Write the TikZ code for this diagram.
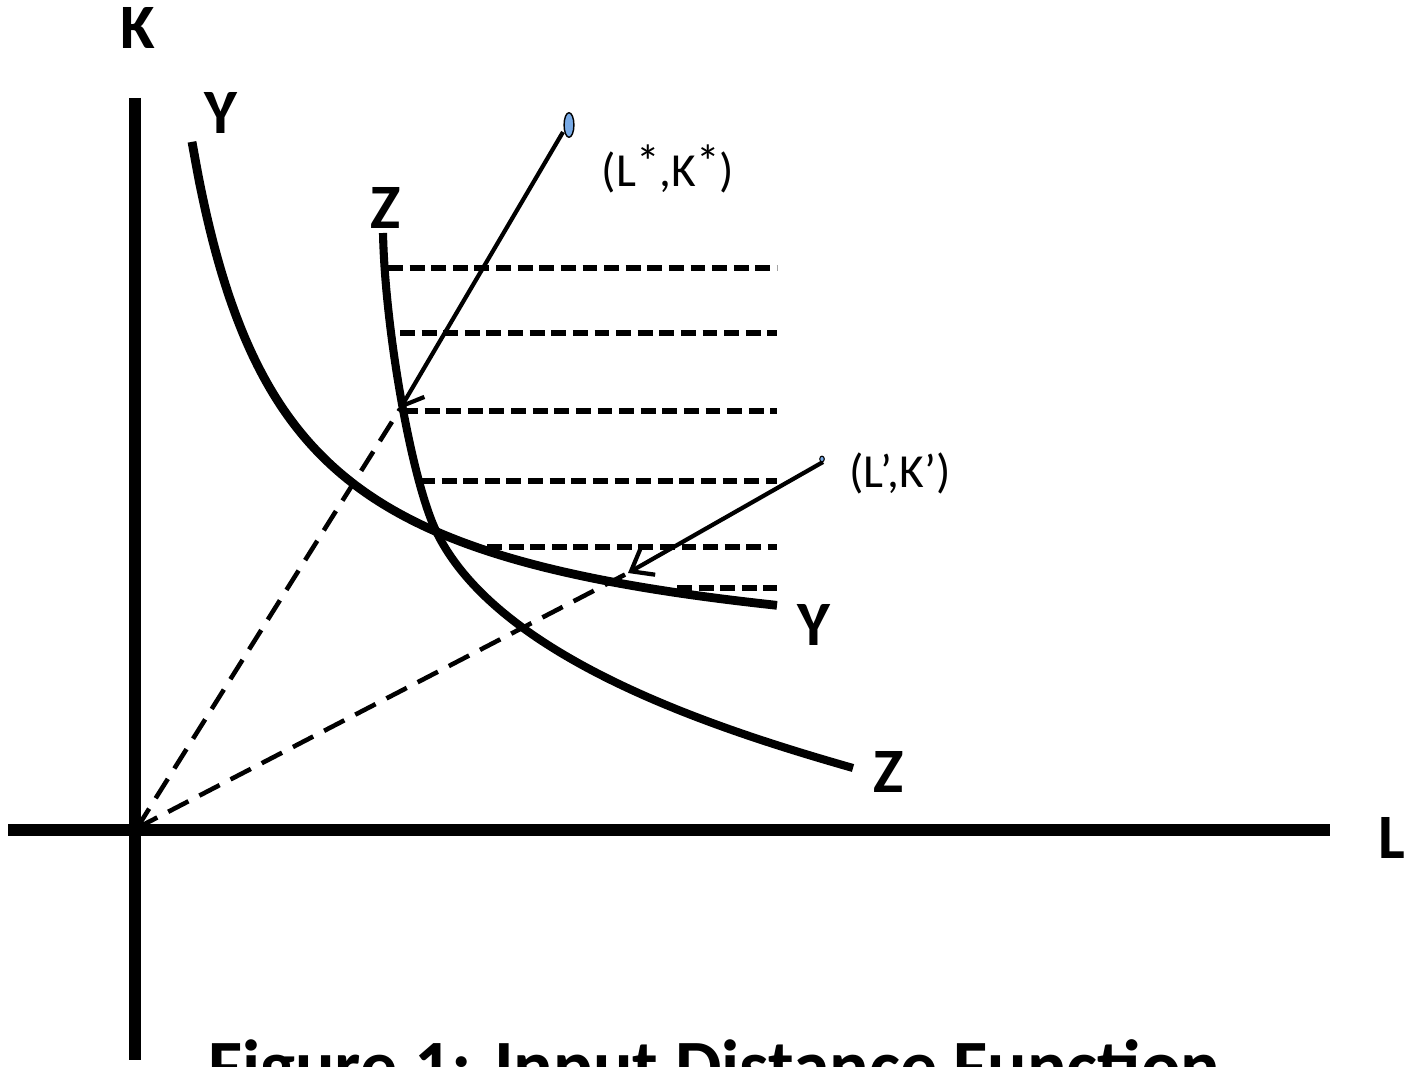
\documentclass[tikz,border=0pt]{standalone}
\usepackage{fontspec}
\setmainfont{Carlito}
\usetikzlibrary{arrows.meta}
\definecolor{dotblue}{RGB}{120,170,230}
\newcommand{\hiast}{\raisebox{0.18em}{*}}

\begin{document}
\begin{tikzpicture}[x=0.02cm,y=-0.02cm,line join=round,
  axisline/.style={line width=7pt},
  isoq/.style={line width=5pt},
  bound/.style={line width=3.3pt,dash pattern=on 8.5pt off 3.8pt},
  radial/.style={line width=2.6pt,dash pattern=on 13pt off 7pt},
  proj/.style={line width=2.4pt,-{Straight Barb[length=11pt,width=17pt]}},
  axlbl/.style={font=\fontsize{36}{40}\selectfont\bfseries,inner sep=0pt},
  ptlbl/.style={font=\fontsize{27}{31}\selectfont,inner sep=0pt}]
  \clip (0,0) rectangle (1413,1067);
  \coordinate (O) at (137,828);
  \coordinate (Pstar) at (563,132);
  \coordinate (Astar) at (400,409);
  \coordinate (Pprime) at (823,462);
  \coordinate (Aprime) at (628,573);
  \coordinate (YZ) at (437,533);
  \draw[axisline] (8,830) -- (1330,830);
  \draw[axisline] (135,98) -- (135,1060);
  \foreach \y/\xs in {268/388,333/400,411/403,481/420,547/487,588/677} {
    \draw[bound] (\xs,\y) -- (777,\y);
  }
  \draw[isoq] plot[domain=55:640,samples=80,smooth] ({137+\x},{678-491.5/(0.01*\x+0.367)});
  \draw[isoq,line width=4.6pt] (383,233) .. controls (385,330) and (412,483) .. (YZ)
    .. controls (500,660) and (720,730) .. (853,768);
  \draw[radial] (O) -- (Astar);
  \draw[radial] (O) -- (Aprime);
  \draw[proj] (Pstar) -- (Astar);
  \draw[proj] (Pprime) -- (Aprime);
  \filldraw[fill=dotblue,line width=0.8pt] (569,125) ellipse [x radius=2.8pt,y radius=7pt];
  \filldraw[fill=dotblue,line width=0.6pt] (822,459) ellipse [x radius=1.3pt,y radius=1.6pt];
  \node[axlbl] (klbl) at (138,28) {K};
  \node[axlbl] (llbl) at (1392,838) {L};
  \node[axlbl] (ytop) at (221,113) {Y};
  \node[axlbl] (ztop) at (386,208) {Z};
  \node[axlbl] (yend) at (814,625) {Y};
  \node[axlbl] (zend) at (889,772) {Z};
  \node[ptlbl] (star) at (668,169) {(L\hiast,K\hiast)};
  \node[ptlbl] (prime) at (900,473) {(L’,K’)};
  \node[anchor=base west,font=\fontsize{42}{46}\selectfont\bfseries,inner sep=0pt] (title) at (208,1091) {Figure 1: Input Distance Function};
\end{tikzpicture}
\end{document}
